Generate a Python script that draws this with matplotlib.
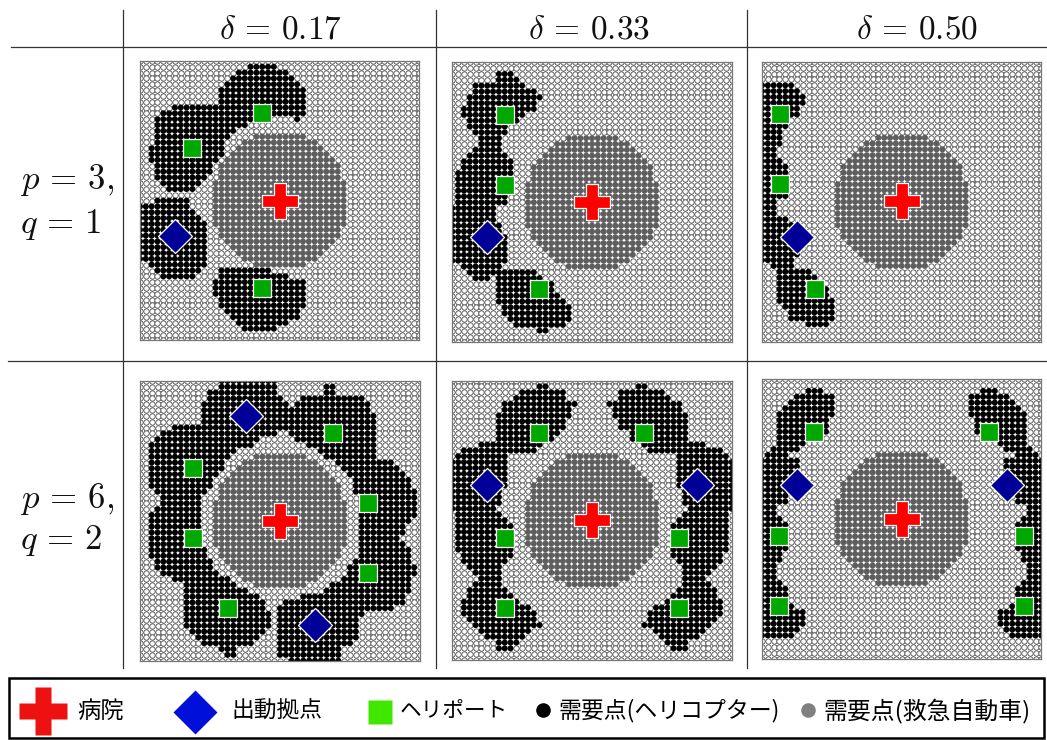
import numpy as np
import matplotlib
matplotlib.use("Agg")
import matplotlib.pyplot as plt
from matplotlib.path import Path
from matplotlib.patches import Rectangle

plt.rcParams['mathtext.fontset'] = 'cm'
CJK = ['Noto Sans CJK JP', 'DejaVu Sans']
W, H = 1047, 740
N_DOTS = 49

COL_LABELS = [r'$\delta\,=\,0.17$', r'$\delta\,=\,0.33$', r'$\delta\,=\,0.50$']
ROW_LABELS = [(r'$p\,=\,3,$', r'$q\,=\,1$'), (r'$p\,=\,6,$', r'$q\,=\,2$')]
LEGEND_LABELS = ['病院', '出動拠点', 'ヘリポート', '需要点(ヘリコプター)', '需要点(救急自動車)']

# half widths (in cells) of the ambulance-served disc, row by row from its top
GREY_HALF_WIDTH = [4, 6, 7, 8, 9, 10, 10, 10, 11, 11, 11, 11, 11, 11, 11, 11, 10, 10, 9, 8, 7, 6, 4]

# Every panel's values live in its own frame: (left, top, right, bottom) outline units, 3 per pixel
R1C1_FRAME = (30, 18, 868, 856)
R1C1_CROSS = (449, 438)
R1C1_HELI = [(397, 175), (187, 280), (397, 699)]
R1C1_BASE = [(135, 543)]
R1C1_BLACK = [
    [(350,35),(445,35),(480,52),(500,70),(515,90),(530,130),(535,175),(520,185),(515,205),(498,205),(495,186),(425,186),
     (365,205),(335,220),(300,240),(285,265),(282,290),(265,310),(250,330),(235,360),(215,385),(190,405),(115,405),(100,385),
     (70,360),(62,310),(48,300),(48,275),(65,265),(65,215),(82,190),(100,170),(135,152),(260,152),(265,115),(280,85),(315,55)],
    [(82,420),(180,420),(182,450),(200,470),(215,490),(232,520),(232,625),(215,655),(165,672),(100,672),(65,645),(48,625),
     (30,620),(28,440),(65,437)],
    [(265,640),(415,640),(415,655),(480,657),(485,670),(515,672),(532,695),(532,735),(515,760),(500,790),(465,815),(445,822),
     (430,838),(360,838),(340,822),(300,790),(282,770),(265,740),(265,722),(250,720),(248,675),(265,670)],
]

R1C2_FRAME = (22, 22, 860, 862)
R1C2_CROSS = (441, 441)
R1C2_HELI = [(179, 179), (179, 389), (283, 703)]
R1C2_BASE = [(127, 546)]
R1C2_BLACK = [
    [(155,55),(205,55),(225,72),(245,90),(270,110),(290,125),(290,140),(272,145),(272,170),(240,175),(220,195),(205,210),
     (190,215),(190,235),(172,240),(172,290),(190,308),(205,325),(205,345),(207,415),(190,425),(190,445),(172,445),(155,460),
     (155,490),(170,510),(175,545),(190,550),(190,625),(172,640),(260,640),(275,660),(290,670),(290,675),(320,675),(325,690),
     (340,710),(355,730),(372,745),(390,780),(372,800),(355,815),(307,825),(307,840),(275,840),(272,825),(225,822),(205,800),
     (190,795),(172,765),(155,750),(155,655),(135,675),(90,675),(85,657),(55,650),(40,625),(20,622),(20,460),(38,455),
     (38,345),(55,320),(55,305),(85,275),(105,270),(105,255),(88,240),(72,225),(72,205),(55,190),(55,160),(72,150),
     (72,125),(88,118),(88,90),(135,88),(155,70)],
]

R1C3_FRAME = (30, 21, 868, 860)
R1C3_CROSS = (450, 439)
R1C3_HELI = [(83, 178), (83, 387), (188, 702)]
R1C3_BASE = [(136, 545)]
R1C3_BLACK = [
    [(28,88),(130,88),(135,105),(150,120),(165,135),(165,150),(150,155),(135,170),(135,190),(115,190),(112,205),(100,225),
     (85,240),(82,270),(65,270),(65,290),(82,305),(100,325),(100,340),(115,350),(115,410),(100,425),(82,440),(65,455),
     (65,490),(115,490),(120,520),(130,560),(135,590),(150,600),(135,612),(115,625),(130,640),(165,645),(195,660),(220,690),
     (235,725),(250,745),(250,805),(215,810),(215,825),(165,825),(160,805),(130,805),(100,785),(100,760),(82,755),(82,725),
     (65,720),(65,675),(82,670),(82,655),(65,640),(50,625),(28,620)],
]

R2C1_FRAME = (30, 33, 870, 872)
R2C1_CROSS = (451, 452)
R2C1_HELI = [(190, 295), (190, 505), (608, 190), (713, 400), (713, 609), (294, 714)]
R2C1_BASE = [(347, 138), (555, 766)]
R2C1_BLACK = [
    [(265,31),(435,31),(435,50),(450,70),(467,85),(470,185),(435,190),(400,205),(368,225),(335,240),(300,250),(285,285),
     (265,310),(250,340),(232,360),(218,385),(218,530),(232,560),(250,590),(265,610),(300,630),(335,650),(365,665),(385,680),
     (400,700),(418,720),(418,770),(400,795),(365,822),(318,838),(318,855),(285,855),(280,838),(230,835),(205,815),(185,795),
     (168,770),(168,635),(130,635),(115,620),(85,600),(65,560),(50,545),(50,460),(65,450),(65,420),(85,400),(85,385),
     (65,360),(65,320),(50,310),(50,285),(65,280),(65,215),(85,200),(100,180),(150,168),(215,168),(218,105),(235,85),
     (235,70),(265,50)],
    [(590,50),(615,50),(620,68),(670,70),(700,88),(720,105),(735,130),(737,265),(785,268),(815,300),(835,320),(838,350),
     (855,360),(855,445),(835,460),(820,490),(805,505),(820,525),(838,540),(838,580),(855,590),(855,615),(838,625),(838,670),
     (820,700),(785,720),(690,735),(690,790),(672,810),(640,838),(640,874),(470,874),(450,855),(450,820),(435,795),(435,720),
     (450,700),(500,690),(535,670),(570,670),(600,650),(635,625),(650,600),(670,575),(690,530),(685,400),(670,350),(655,320),
     (635,295),(600,270),(570,250),(520,225),(485,195),(485,105),(500,88),(530,70),(585,68)],
]

R2C2_FRAME = (22, 26, 860, 864)
R2C2_CROSS = (441, 444)
R2C2_HELI = [(283, 184), (597, 184), (179, 498), (702, 498), (179, 708), (702, 708)]
R2C2_BASE = [(127, 340), (755, 340)]
R2C2_BLACK = [
    [(275,42),(305,42),(310,60),(355,60),(360,90),(390,95),(390,110),(372,115),(372,140),(355,165),(340,180),(322,195),
     (315,210),(275,225),(272,245),(190,245),(190,330),(175,345),(175,390),(158,400),(158,420),(175,430),(190,450),(207,470),
     (207,540),(190,565),(172,590),(172,645),(190,660),(207,675),(225,695),(272,715),(275,750),(290,755),(290,765),(272,770),
     (255,790),(225,805),(207,830),(155,830),(150,810),(125,805),(90,775),(72,740),(55,725),(55,690),(72,675),(72,640),
     (105,620),(88,600),(55,570),(38,540),(38,430),(20,425),(20,260),(40,240),(55,225),(88,225),(105,208),(155,208),
     (155,125),(172,100),(205,75),(225,60),(270,60)],
    [(607,42),(577,42),(572,60),(527,60),(522,90),(492,95),(492,110),(510,115),(510,140),(527,165),(542,180),(560,195),
     (567,210),(607,225),(610,245),(692,245),(692,330),(707,345),(707,390),(724,400),(724,420),(707,430),(692,450),(675,470),
     (675,540),(692,565),(710,590),(710,645),(692,660),(675,675),(657,695),(610,715),(607,750),(592,755),(592,765),(610,770),
     (627,790),(657,805),(675,830),(727,830),(732,810),(757,805),(792,775),(810,740),(827,725),(827,690),(810,675),(810,640),
     (777,620),(794,600),(827,570),(844,540),(844,430),(862,425),(862,260),(842,240),(827,225),(794,225),(777,208),(727,208),
     (727,125),(710,100),(677,75),(657,60),(612,60)],
]

R2C3_FRAME = (30, 22, 868, 860)
R2C3_CROSS = (450, 440)
R2C3_HELI = [(187, 180), (711, 180), (82, 493), (817, 493), (82, 703), (817, 703)]
R2C3_BASE = [(135, 338), (765, 338)]
R2C3_BLACK = [
    [(165,55),(215,55),(220,72),(250,75),(250,130),(235,135),(235,190),(218,195),(215,210),(165,210),(150,225),(135,240),
     (115,242),(115,255),(135,260),(135,275),(150,285),(150,330),(115,365),(115,390),(65,392),(65,405),(82,425),(100,445),
     (115,455),(115,540),(100,545),(85,565),(65,590),(65,605),(82,625),(100,645),(100,670),(115,690),(130,695),(135,710),
     (150,715),(165,735),(165,750),(150,770),(130,790),(28,792),(28,260),(48,240),(65,225),(82,210),(65,190),(65,165),
     (82,150),(82,125),(100,105),(100,90),(130,88),(135,72),(165,70)],
    [(733,55),(683,55),(678,72),(648,75),(648,130),(663,135),(663,190),(680,195),(683,210),(733,210),(748,225),(763,240),
     (783,242),(783,255),(763,260),(763,275),(748,285),(748,330),(783,365),(783,390),(833,392),(833,405),(816,425),(798,445),
     (783,455),(783,540),(798,545),(813,565),(833,590),(833,605),(816,625),(798,645),(798,670),(783,690),(768,695),(763,710),
     (748,715),(733,735),(733,750),(748,770),(768,790),(870,792),(870,260),(850,240),(833,225),(816,210),(833,190),(833,165),
     (816,150),(816,125),(798,105),(798,90),(768,88),(763,72),(733,70)],
]

# layout: crop origin in figure pixels of the frame units above
PANELS = [
    (0, 0, (130, 55), R1C1_FRAME, R1C1_CROSS, R1C1_HELI, R1C1_BASE, R1C1_BLACK),
    (0, 1, (445, 55), R1C2_FRAME, R1C2_CROSS, R1C2_HELI, R1C2_BASE, R1C2_BLACK),
    (0, 2, (752, 55), R1C3_FRAME, R1C3_CROSS, R1C3_HELI, R1C3_BASE, R1C3_BLACK),
    (1, 0, (130, 370), R2C1_FRAME, R2C1_CROSS, R2C1_HELI, R2C1_BASE, R2C1_BLACK),
    (1, 1, (445, 372), R2C2_FRAME, R2C2_CROSS, R2C2_HELI, R2C2_BASE, R2C2_BLACK),
    (1, 2, (752, 372), R2C3_FRAME, R2C3_CROSS, R2C3_HELI, R2C3_BASE, R2C3_BLACK),
]

DOT_D = 5.3 * 72 / 100
BIG_D = 6.05 * 72 / 100
fig = plt.figure(figsize=(W / 100, H / 100), dpi=100)

for row, col, origin, frame, cross, heli, base, black in PANELS:
    l, t, r, b = frame
    px_l, px_r = origin[0] + l / 3, origin[0] + r / 3
    px_t, px_b = origin[1] + t / 3, origin[1] + b / 3
    ax = fig.add_axes([px_l / W, 1 - px_b / H, (px_r - px_l) / W, (px_b - px_t) / H])
    ax.set_xlim(l, r)
    ax.set_ylim(b, t)
    ax.set_xticks([])
    ax.set_yticks([])
    for s in ax.spines.values():
        s.set_linewidth(0.9)
        s.set_color('#777777')
        s.set_zorder(6)
    xs = np.linspace(l, r, N_DOTS)
    ys = np.linspace(t, b, N_DOTS)
    gx, gy = np.meshgrid(xs, ys)
    pts = np.column_stack([gx.ravel(), gy.ravel()])
    is_black = np.zeros(len(pts), bool)
    for poly in black:
        is_black |= Path(poly).contains_points(pts)
    ii, jj = np.meshgrid(np.arange(N_DOTS), np.arange(N_DOTS))
    is_grey = np.zeros(N_DOTS * N_DOTS, bool)
    for k, hw in enumerate(GREY_HALF_WIDTH):
        is_grey |= (jj.ravel() == 24 - 11 + k) & (np.abs(ii.ravel() - 24) <= hw)
    is_black &= ~is_grey
    rest = ~(is_black | is_grey)
    ax.scatter(pts[rest, 0], pts[rest, 1], s=DOT_D ** 2, facecolor='white', edgecolor='#333333',
               linewidth=0.5, zorder=2)
    ax.scatter(pts[is_black, 0], pts[is_black, 1], s=BIG_D ** 2, facecolor='black', edgecolor='none', zorder=3)
    ax.scatter(pts[is_grey, 0], pts[is_grey, 1], s=BIG_D ** 2, facecolor='#5E5E5E', edgecolor='none', zorder=3)
    ax.plot(*zip(*heli), ls='none', marker='s', ms=13.5, mfc='#00A800', mec='white', mew=0.9, zorder=5)
    ax.plot(*zip(*base), ls='none', marker='D', ms=17.3, mfc='#000099', mec='white', mew=0.9, zorder=5)
    ax.plot([cross[0]], [cross[1]], ls='none', marker='P', ms=25.5, mfc='#FF0000', mec='white', mew=0.9, zorder=5)

# overlay in pixel units: table rules, headers, legend
ov = fig.add_axes([0, 0, 1, 1], zorder=10)
ov.set_xlim(0, W)
ov.set_ylim(H, 0)
ov.axis('off')
ov.patch.set_alpha(0)
for x in (123, 436, 747):
    ov.plot([x, x], [10, 668], color='#333333', lw=0.9)
for y, x0 in ((47, 11), (361, 8)):
    ov.plot([x0, W], [y, y], color='#333333', lw=0.9)

for x, s in zip((280, 589, 917), COL_LABELS):
    ov.text(x, 29, s, fontsize=24, ha='center', va='center', color='#111111')
for (y1, y2), (a, b_) in zip(((180, 225), (499, 541)), ROW_LABELS):
    ov.text(20, y1, a, fontsize=25, ha='left', va='center', color='#111111')
    ov.text(20, y2, b_, fontsize=25, ha='left', va='center', color='#111111')

ov.add_patch(Rectangle((8.5, 678), 1035.5, 60, fill=False, ec='black', lw=1.8))
ov.plot([43], [711], marker='P', ms=34.5, mfc='#EE1111', mec='none', ls='none')
ov.plot([195], [712], marker='D', ms=22, mfc='#0010D8', mec='none', ls='none')
ov.plot([380], [712], marker='s', ms=17, mfc='#40E800', mec='none', ls='none')
ov.plot([543], [710], marker='o', ms=10.5, mfc='black', mec='none', ls='none')
ov.plot([808], [710], marker='o', ms=10.5, mfc='#808080', mec='none', ls='none')
for x, s, fs in zip((77, 231, 400, 558, 823), LEGEND_LABELS, (16.8, 16.4, 15.6, 16.5, 17.2)):
    ov.text(x, 711, s, fontsize=fs, ha='left', va='center', family=CJK, color='black')

fig.savefig('out.png', dpi=100)
